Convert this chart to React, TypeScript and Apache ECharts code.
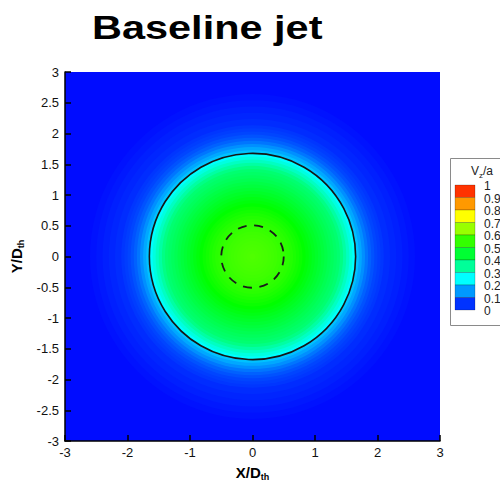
import React, { useEffect, useRef } from "react";
import * as echarts from "echarts";

// Axial velocity V_z/a in the cross-plane, azimuthally averaged:
// each ring is given by its outer radius (in throat diameters) and its level.
const ringOuterRadius = [
  4.3, 2.6, 2.5, 2.4, 2.3, 2.2, 2.1, 2.05, 2.0, 1.95, 1.9, 1.85, 1.8, 1.75,
  1.7, 1.65, 1.6, 1.55, 1.5, 1.45, 1.4, 1.35, 1.3, 1.25, 1.2, 1.15, 1.1, 1.05,
  1.0, 0.95, 0.9, 0.85, 0.8, 0.75, 0.7, 0.65, 0.6, 0.55, 0.5, 0.45, 0.4, 0.35,
  0.3, 0.25, 0.2, 0.15, 0.1, 0.05,
];
const ringValue = [
  0.012, 0.018, 0.024, 0.03, 0.036, 0.043, 0.053, 0.06, 0.068, 0.08, 0.095,
  0.115, 0.14, 0.165, 0.19, 0.25, 0.28, 0.31, 0.34, 0.37, 0.39, 0.4, 0.41,
  0.42, 0.43, 0.44, 0.45, 0.46, 0.47, 0.48, 0.49, 0.5, 0.51, 0.518, 0.525,
  0.533, 0.54, 0.545, 0.55, 0.555, 0.56, 0.563, 0.566, 0.569, 0.571, 0.573,
  0.575, 0.577,
];

// Contour outlines: jet boundary (solid) and nozzle throat (dashed)
const jetBoundaryRadius = [1.65];
const throatRadius = [0.5];

// Colour-bar levels
const legendLevels = ["1", "0.9", "0.8", "0.7", "0.6", "0.5", "0.4", "0.3", "0.2", "0.1", "0"];

const rainbowStops = ["#0000ff", "#00ffff", "#00ff00", "#ffff00", "#ff0000"];

function hexToRgb(h: string) {
  return [1, 3, 5].map((i) => parseInt(h.slice(i, i + 2), 16));
}

function rainbow(v: number) {
  const t = Math.max(0, Math.min(1, v)) * (rainbowStops.length - 1);
  const i = Math.min(Math.floor(t), rainbowStops.length - 2);
  const f = t - i;
  const a = hexToRgb(rainbowStops[i]);
  const b = hexToRgb(rainbowStops[i + 1]);
  const c = a.map((x, k) => Math.round(x + (b[k] - x) * f));
  return `rgb(${c[0]},${c[1]},${c[2]})`;
}

const FONT = "Liberation Sans";

function ringRenderer(style: any) {
  return (_p: any, api: any) => {
    const c = api.coord([0, 0]);
    const e = api.coord([api.value(0), 0]);
    return {
      type: "circle",
      shape: { cx: c[0], cy: c[1], r: e[0] - c[0] },
      style: typeof style === "function" ? style(api) : style,
    };
  };
}

export default function App() {
  const ref = useRef<HTMLDivElement>(null);

  useEffect(() => {
    document.body.style.margin = "0";
    const chart = echarts.init(ref.current!, null, { renderer: "svg" });

    const gridLeft = 65;
    const gridTop = 72;
    const gridSize = 375;

    // colour bar
    const barX = 455;
    const barTop = 185;
    const bandH = 12.5;
    const legendChildren: any[] = [
      {
        type: "rect",
        shape: { x: 450.5, y: 158.5, width: 80, height: 167 },
        style: { fill: "#fff", stroke: "#8a8a8a", lineWidth: 1 },
      },
      {
        type: "text",
        x: 471,
        y: 171,
        style: {
          text: "{n|V}{s|z}{n|/a}",
          verticalAlign: "middle",
          rich: {
            n: { fontSize: 12, fontFamily: FONT, fill: "#222" },
            s: { fontSize: 8, fontFamily: FONT, fill: "#222", padding: [8, 0, 0, 0] },
          },
        },
      },
    ];
    for (let i = 0; i < legendLevels.length - 1; i++) {
      const hi = parseFloat(legendLevels[i]);
      const lo = parseFloat(legendLevels[i + 1]);
      legendChildren.push({
        type: "rect",
        shape: { x: barX, y: barTop + i * bandH, width: 20, height: bandH },
        style: { fill: rainbow((hi + lo) / 2), stroke: "rgba(0,0,0,0.35)", lineWidth: 0.6 },
      });
    }
    legendLevels.forEach((lab, i) => {
      legendChildren.push({
        type: "text",
        x: 484,
        y: barTop + i * bandH + 1,
        style: {
          text: lab,
          fontSize: 12,
          fontFamily: FONT,
          fill: "#222",
          verticalAlign: "middle",
        },
      });
    });

    const axisCommon = {
      type: "value" as const,
      min: -3,
      max: 3,
      z: 10,
      axisLine: { show: true, onZero: false, lineStyle: { color: "#000", width: 1.5 } },
      axisTick: { show: true, inside: true, length: 6, lineStyle: { color: "#000", width: 1.5 } },
      splitLine: { show: false },
      axisLabel: { color: "#111", fontSize: 13, fontFamily: FONT },
      nameLocation: "middle" as const,
      nameTextStyle: {
        rich: {
          b: { fontSize: 15, fontWeight: "bold", fontFamily: FONT, color: "#000" },
          s: { fontSize: 9, fontWeight: "bold", fontFamily: FONT, color: "#000", padding: [9, 0, 0, 0] },
        },
      },
    };

    chart.setOption({
      animation: false,
      backgroundColor: "#fff",
      grid: { left: gridLeft, top: gridTop, width: gridSize, height: gridSize },
      xAxis: {
        ...axisCommon,
        interval: 1,
        axisLabel: { ...axisCommon.axisLabel, margin: 5 },
        name: "{b|X/D}{s|th}",
        nameGap: 22,
      },
      yAxis: {
        ...axisCommon,
        interval: 0.5,
        axisLabel: { ...axisCommon.axisLabel, margin: 6 },
        name: "{b|Y/D}{s|th}",
        nameRotate: 90,
        nameGap: 33,
      },
      visualMap: {
        show: false,
        type: "continuous",
        min: 0,
        max: 1,
        dimension: 2,
        seriesIndex: 0,
        inRange: { color: rainbowStops },
      },
      series: [
        {
          type: "custom",
          clip: true,
          encode: { x: 0, y: 1 },
          data: ringOuterRadius.map((r, i) => [r, 0, ringValue[i]]),
          renderItem: ringRenderer((api: any) => ({ fill: api.visual("color") })),
        },
        {
          type: "custom",
          encode: { x: 0, y: 1 },
          data: jetBoundaryRadius.map((r) => [r, 0]),
          renderItem: ringRenderer({ fill: "none", stroke: "#151515", lineWidth: 1.6 }),
        },
        {
          type: "custom",
          encode: { x: 0, y: 1 },
          data: throatRadius.map((r) => [r, 0]),
          renderItem: ringRenderer({
            fill: "none",
            stroke: "#1a1a1a",
            lineWidth: 1.8,
            lineDash: [9, 7.5],
          }),
        },
      ],
      graphic: [
        {
          type: "text",
          x: 92,
          y: 27,
          scaleX: 1.22,
          style: {
            text: "Baseline jet",
            fontSize: 34,
            fontWeight: "bold",
            fontFamily: FONT,
            fill: "#000",
            verticalAlign: "middle",
          },
        },
        { type: "group", children: legendChildren },
      ],
    });

    return () => chart.dispose();
  }, []);

  return <div ref={ref} style={{ width: 500, height: 486 }} />;
}
